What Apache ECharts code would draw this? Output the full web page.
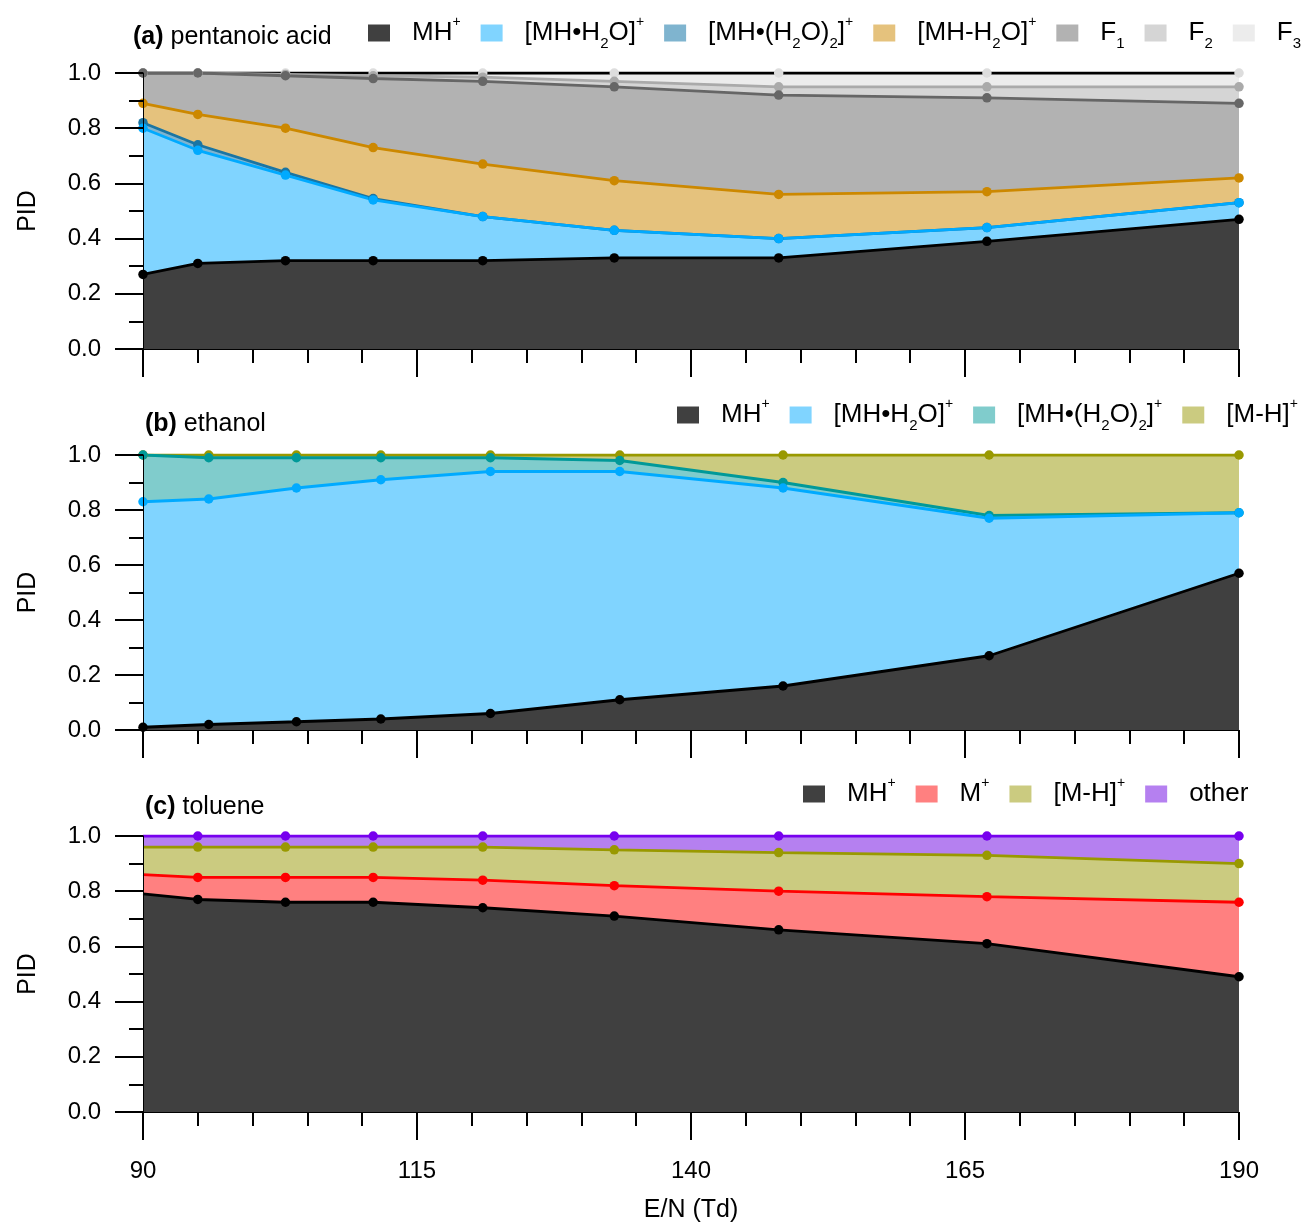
<!DOCTYPE html>
<html>
<head>
<meta charset="utf-8">
<script src="https://cdn.jsdelivr.net/npm/echarts@6/dist/echarts.min.js"></script>
<style>
  html, body { margin: 0; padding: 0; background: #fff; }
  #chart { width: 1309px; height: 1222px; }
</style>
</head>
<body>
<div id="chart"></div>
<script>
// E/N values (Td) for each panel
const xA = [90, 95, 103, 111, 121, 133, 148, 167, 190];
const xB = [90, 96, 104, 111.7, 121.7, 133.5, 148.4, 167.2, 190];
const xC = [90, 95, 103, 111, 121, 133, 148, 167, 190];

// (a) pentanoic acid – fraction of each ion
const aMH     = [0.27, 0.31, 0.32, 0.32, 0.32, 0.33, 0.33, 0.39, 0.47];
const aMHW    = [0.53, 0.41, 0.31, 0.22, 0.16, 0.10, 0.07, 0.05, 0.06];
const aMHW2   = [0.02, 0.02, 0.01, 0.005, 0, 0, 0, 0, 0];
const aMHmW   = [0.07, 0.11, 0.16, 0.185, 0.19, 0.18, 0.16, 0.13, 0.09];
const aF1     = [0.11, 0.15, 0.19, 0.25, 0.30, 0.34, 0.36, 0.34, 0.27];
const aF2     = [0, 0, 0.005, 0.01, 0.015, 0.02, 0.03, 0.04, 0.06];
const aF3     = [0, 0, 0.005, 0.01, 0.015, 0.03, 0.05, 0.05, 0.05];

// (b) ethanol
const bMH     = [0.01, 0.02, 0.03, 0.04, 0.06, 0.11, 0.16, 0.27, 0.57];
const bMHW    = [0.82, 0.82, 0.85, 0.87, 0.88, 0.83, 0.72, 0.50, 0.22];
const bMHW2   = [0.17, 0.15, 0.11, 0.08, 0.05, 0.04, 0.02, 0.01, 0];
const bMmH    = [0, 0.01, 0.01, 0.01, 0.01, 0.02, 0.10, 0.22, 0.21];

// (c) toluene
const cMH     = [0.79, 0.77, 0.76, 0.76, 0.74, 0.71, 0.66, 0.61, 0.49];
const cM      = [0.07, 0.08, 0.09, 0.09, 0.10, 0.11, 0.14, 0.17, 0.27];
const cMmH    = [0.10, 0.11, 0.11, 0.11, 0.12, 0.13, 0.14, 0.15, 0.14];
const cOther  = [0.04, 0.04, 0.04, 0.04, 0.04, 0.05, 0.06, 0.07, 0.10];

const xTicks = [90, 115, 140, 165, 190];

const FONT = "'Liberation Sans', Arial, Helvetica, sans-serif";

// legend label markup (super/subscripts)
const labelMap = {
  'MH+': '{g| }{n|MH}{sup|+}',
  '[MH•H2O]+': '{g| }{n|[MH•H}{sub|2}{n|O]}{sup|+}',
  '[MH•(H2O)2]+': '{g| }{n|[MH•(H}{sub|2}{n|O)}{sub|2}{n|]}{sup|+}',
  '[MH-H2O]+': '{g| }{n|[MH-H}{sub|2}{n|O]}{sup|+}',
  'F1': '{g| }{n|F}{sub|1}',
  'F2': '{g| }{n|F}{sub|2}',
  'F3': '{g| }{n|F}{sub|3}',
  'M+': '{g| }{n|M}{sup|+}',
  '[M-H]+': '{g| }{n|[M-H]}{sup|+}',
  'other': '{g| }{n|other}'
};

const rich = {
  g: { width: 17, fontSize: 10 },
  n: { fontSize: 26, fontFamily: FONT, color: '#000', lineHeight: 36 },
  sup: { fontSize: 14, fontFamily: FONT, color: '#000', lineHeight: 8, verticalAlign: 'top' },
  sub: { fontSize: 15, fontFamily: FONT, color: '#000', lineHeight: 24, verticalAlign: 'bottom' }
};

// species are listed bottom-to-top; cumulative tops are drawn top-first so lower areas sit over higher ones
function panel(gi, xs, species, skipFirst) {
  const out = [];
  let run = xs.map(() => 0);
  const tops = species.map(s => {
    run = run.map((r, i) => r + s.vals[i]);
    return run.slice();
  });
  for (let k = species.length - 1; k >= 0; k--) {
    const s = species[k];
    out.push({
      name: s.name,
      type: 'line',
      xAxisIndex: gi,
      yAxisIndex: gi,
      data: xs.map((x, i) => [x, Math.min(1, tops[k][i])]),
      symbol: 'circle',
      symbolSize: skipFirst ? (v, p) => (p.dataIndex === 0 ? 0 : 9.5) : 9.5,
      showAllSymbol: true,
      lineStyle: { color: s.line, width: 2.8 },
      itemStyle: { color: s.dot || s.line },
      areaStyle: { color: s.fill, opacity: 1, origin: 'start' },
      emphasis: { disabled: true },
      animation: false
    });
  }
  return out;
}

function makeLegend(left, top, species) {
  return {
    left: left, top: top, padding: 0,
    icon: 'rect', itemWidth: 22, itemHeight: 17, itemGap: 20,
    selectedMode: false,
    itemStyle: { borderWidth: 0 },
    data: species.map(s => ({ name: s.name, itemStyle: { color: s.fill, borderWidth: 0 } })),
    formatter: n => labelMap[n] || n,
    textStyle: { rich: rich, fontSize: 26, fontFamily: FONT }
  };
}

const spA = [
  { name: 'MH+', vals: aMH, fill: '#404040', line: '#000000' },
  { name: '[MH•H2O]+', vals: aMHW, fill: '#80d4ff', line: '#00aaff' },
  { name: '[MH•(H2O)2]+', vals: aMHW2, fill: '#7fb4cf', line: '#1a75a3' },
  { name: '[MH-H2O]+', vals: aMHmW, fill: '#e5c27d', line: '#cc8800' },
  { name: 'F1', vals: aF1, fill: '#b2b2b2', line: '#666666' },
  { name: 'F2', vals: aF2, fill: '#d5d5d5', line: '#aaaaaa' },
  { name: 'F3', vals: aF3, fill: '#ececec', line: '#000000', dot: '#dddddd' }
];
const spB = [
  { name: 'MH+', vals: bMH, fill: '#404040', line: '#000000' },
  { name: '[MH•H2O]+', vals: bMHW, fill: '#80d4ff', line: '#00aaff' },
  { name: '[MH•(H2O)2]+', vals: bMHW2, fill: '#80cccc', line: '#009999' },
  { name: '[M-H]+', vals: bMmH, fill: '#cbcb80', line: '#999900' }
];
const spC = [
  { name: 'MH+', vals: cMH, fill: '#404040', line: '#000000' },
  { name: 'M+', vals: cM, fill: '#ff8080', line: '#ff0000' },
  { name: '[M-H]+', vals: cMmH, fill: '#cbcb80', line: '#999900' },
  { name: 'other', vals: cOther, fill: '#b580f0', line: '#7700ee' }
];

const grids = [
  { left: 143, top: 73, width: 1096, height: 276, outerBoundsMode: 'none' },
  { left: 143, top: 455, width: 1096, height: 275, outerBoundsMode: 'none' },
  { left: 143, top: 836, width: 1096, height: 276, outerBoundsMode: 'none' }
];

const xAxes = grids.map((g, i) => ({
  type: 'value', gridIndex: i, min: 90, max: 190, interval: 25,
  axisLine: { show: true, lineStyle: { color: '#000', width: 1 } },
  axisTick: { show: true, length: 28, lineStyle: { color: '#000', width: 2 } },
  minorTick: { show: true, splitNumber: 5, length: 14, lineStyle: { color: '#000', width: 2 } },
  splitLine: { show: false },
  axisLabel: {
    show: i === 2, margin: 47, fontSize: 24, fontFamily: FONT, color: '#000',
    formatter: v => (xTicks.includes(v) ? String(v) : '')
  },
  name: i === 2 ? 'E/N (Td)' : '',
  nameLocation: 'middle', nameGap: 86,
  nameTextStyle: { fontSize: 25, fontFamily: FONT, color: '#000' },
  z: 10
}));

const yAxes = grids.map((g, i) => ({
  type: 'value', gridIndex: i, min: 0, max: 1, interval: 0.2,
  axisLine: { show: true, lineStyle: { color: '#000', width: 1 } },
  axisTick: { show: true, length: 28, lineStyle: { color: '#000', width: 2 } },
  minorTick: { show: true, splitNumber: 2, length: 14, lineStyle: { color: '#000', width: 2 } },
  splitLine: { show: false },
  axisLabel: { margin: 42, fontSize: 24, fontFamily: FONT, color: '#000', formatter: v => v.toFixed(1) },
  name: 'PID', nameLocation: 'middle', nameGap: 102,
  nameTextStyle: { fontSize: 25, fontFamily: FONT, color: '#000' },
  z: 10
}));

const titleRich = {
  b: { fontWeight: 'bold', fontSize: 25, fontFamily: FONT, color: '#000' },
  t: { fontWeight: 'normal', fontSize: 25, fontFamily: FONT, color: '#000' }
};
const titleStyle = { fontWeight: 'normal', fontSize: 25, fontFamily: FONT, rich: titleRich };

const option = {
  backgroundColor: '#fff',
  animation: false,
  textStyle: { fontFamily: FONT },
  title: [
    { text: '{b|(a)}{t| pentanoic acid}', left: 133, top: 25, padding: 0, textStyle: titleStyle },
    { text: '{b|(b)}{t| ethanol}', left: 145, top: 412, padding: 0, textStyle: titleStyle },
    { text: '{b|(c)}{t| toluene}', left: 145, top: 795, padding: 0, textStyle: titleStyle }
  ],
  legend: [
    makeLegend(368, 15, spA),
    makeLegend(677, 397, spB),
    makeLegend(803, 776, spC)
  ],
  grid: grids,
  xAxis: xAxes,
  yAxis: yAxes,
  series: [].concat(
    panel(0, xA, spA, false),
    panel(1, xB, spB, false),
    panel(2, xC, spC, true)
  )
};

const chart = echarts.init(document.getElementById('chart'), null, { renderer: 'canvas' });
chart.setOption(option);
</script>
</body>
</html>
